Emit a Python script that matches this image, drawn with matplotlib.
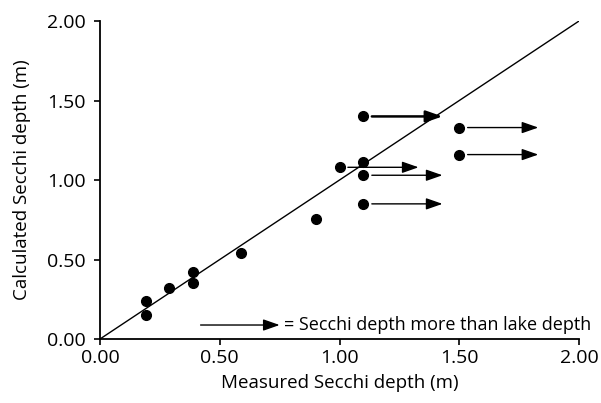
import matplotlib
matplotlib.use("Agg")
from matplotlib import pyplot as plt

# measured vs calculated secchi depth (m)
measured = [0.19, 0.19, 0.29, 0.39, 0.39, 0.59, 0.90, 1.00, 1.10, 1.10, 1.10, 1.10, 1.50, 1.50]
calculated = [0.24, 0.15, 0.32, 0.42, 0.35, 0.54, 0.755, 1.08, 1.115, 1.03, 0.85, 1.40, 1.33, 1.16]

# points where secchi depth exceeded lake depth: start x, y, arrow end x
arrow_x = [1.00, 1.10, 1.10, 1.10, 1.50, 1.50]
arrow_y = [1.08, 1.03, 0.85, 1.40, 1.33, 1.16]
arrow_end = [1.33, 1.43, 1.43, 1.43, 1.83, 1.83]
arrow_lw = [1.0, 1.0, 1.0, 1.8, 1.0, 1.0]

ticks = [0.0, 0.5, 1.0, 1.5, 2.0]
tick_labels = ["0.00", "0.50", "1.00", "1.50", "2.00"]

plt.rcParams['font.family'] = ['Open Sans', 'DejaVu Sans']

fig = plt.figure(figsize=(6.01, 4.03), dpi=100)
ax = fig.add_axes([0.1664, 0.1588, 0.797, 0.789])

ax.plot([0, 2], [0, 2], color="black", lw=1.0)
ax.plot(measured, calculated, "o", color="black", ms=7)

style = "-|>,head_length=1.0,head_width=0.35"
for x0, y0, x1, lw in zip(arrow_x, arrow_y, arrow_end, arrow_lw):
    ax.annotate("", xy=(x1, y0), xytext=(x0 + 0.035, y0),
                arrowprops=dict(arrowstyle=style, color="black", lw=lw,
                                shrinkA=0, shrinkB=0))

# key
ax.annotate("", xy=(0.75, 0.088), xytext=(0.42, 0.088),
            arrowprops=dict(arrowstyle=style, color="black", lw=1.0,
                            shrinkA=0, shrinkB=0))
ax.text(0.77, 0.088, "= Secchi depth more than lake depth", fontsize=13,
        va="center", ha="left")

ax.set_xlim(0, 2)
ax.set_ylim(0, 2)
ax.set_xticks(ticks)
ax.set_xticklabels(tick_labels)
ax.set_yticks(ticks)
ax.set_yticklabels(tick_labels)
ax.tick_params(direction="out", length=4, width=1.2, labelsize=14, colors="black")
ax.tick_params(axis="y", pad=6)
ax.spines["top"].set_visible(False)
ax.spines["right"].set_visible(False)
ax.spines["left"].set_linewidth(1.3)
ax.spines["bottom"].set_linewidth(1.3)

ax.set_xlabel("Measured Secchi depth (m)", fontsize=13.5, labelpad=5)
ax.set_ylabel("Calculated Secchi depth (m)", fontsize=13.5, labelpad=12)

fig.savefig("out.png", dpi=100)
